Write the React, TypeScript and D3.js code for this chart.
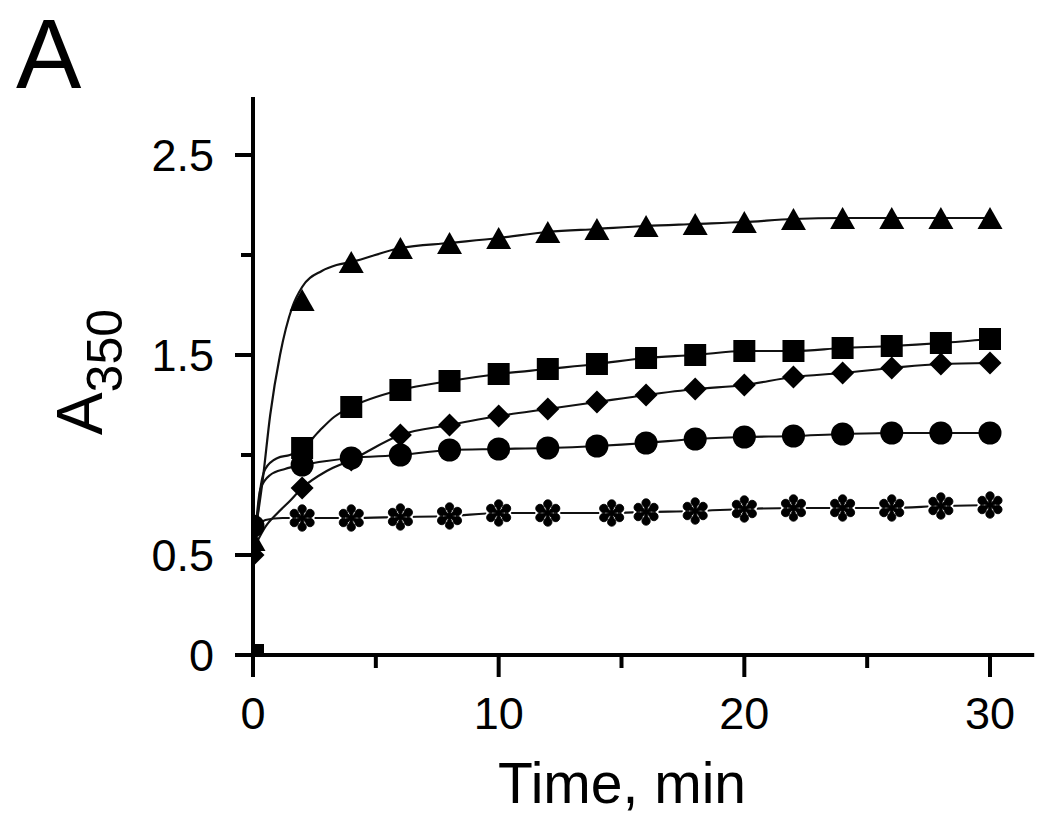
import React from "react";
import * as d3 from "d3";

// marker times (min) and readings of A350
const times = [2, 4, 6, 8, 10, 12, 14, 16, 18, 20, 22, 24, 26, 28, 30];
const triangleVals = [1.775, 1.965, 2.035, 2.06, 2.085, 2.115, 2.13, 2.145, 2.155, 2.165, 2.18, 2.185, 2.185, 2.185, 2.185];
const squareVals = [1.035, 1.24, 1.325, 1.37, 1.405, 1.43, 1.455, 1.485, 1.5, 1.52, 1.52, 1.535, 1.545, 1.56, 1.58];
const diamondVals = [0.835, 0.975, 1.1, 1.15, 1.195, 1.23, 1.265, 1.3, 1.33, 1.35, 1.39, 1.41, 1.435, 1.455, 1.46];
const circleVals = [0.95, 0.985, 1.0, 1.025, 1.03, 1.035, 1.045, 1.06, 1.08, 1.09, 1.095, 1.105, 1.11, 1.11, 1.11];
const asteriskTimes = [2, 4, 6, 8, 10, 12, 14.6, 16, 18, 20, 22, 24, 26, 28, 30];
const asteriskVals = [0.685, 0.685, 0.69, 0.695, 0.71, 0.71, 0.71, 0.715, 0.72, 0.73, 0.735, 0.735, 0.735, 0.745, 0.75];

// points at t = 0 (half hidden by the axis)
const zeroTriangle = 0.575;
const zeroSquare = 0.0;
const zeroDiamond = 0.5;
const zeroCircle = 0.645;

// early part of the fitted curves (before the markers take over)
const triangleFitT = [0.1, 0.4, 0.7, 1.1, 1.6, 2.0, 2.8, 3.4];
const triangleFitV = [0.62, 0.88, 1.2, 1.5, 1.74, 1.84, 1.92, 1.95];
const squareFitT = [0.1, 0.25, 0.5, 1.0, 1.5, 2.0, 2.7, 3.3];
const squareFitV = [0.55, 0.78, 0.93, 0.985, 1.0, 1.03, 1.12, 1.19];
const diamondFitT = [0.1, 0.5, 1.0, 1.5, 2.0, 3.0];
const diamondFitV = [0.55, 0.64, 0.71, 0.77, 0.835, 0.92];
const circleFitT = [0.1, 0.3, 0.7, 1.3, 2.0, 3.0];
const circleFitV = [0.62, 0.83, 0.9, 0.93, 0.95, 0.97];
const asteriskFitT = [0.1, 0.5, 1.2];
const asteriskFitV = [0.62, 0.675, 0.685];

const xMajor = [0, 10, 20, 30];
const xMinor = [5, 15, 25];
const yMajor = [0, 0.5, 1.5, 2.5];
const yMinor = [1, 2];
const yLabels = ["0", "0.5", "1.5", "2.5"];

const FONT = "'Liberation Sans', Arial, Helvetica, sans-serif";

type P = [number, number];

const join = (ft: number[], fv: number[], from: number, mt: number[], mv: number[]): P[] => {
  const pts: P[] = ft.map((t, i) => [t, fv[i]]);
  mt.forEach((t, i) => {
    if (t >= from) pts.push([t, mv[i]]);
  });
  return pts;
};

const trianglePath = "M0,-11L12.5,11L-12.5,11Z";
const squarePath = "M-11,-11H11V11H-11Z";
const diamondPath = "M0,-11.5L11.5,0L0,11.5L-11.5,0Z";
// teardrop petal pointing up
const petal = "M0,0L-2.2,-5.5A4.2,4.2 0 1,1 2.2,-5.5Z";
const petalAngles = [0, 60, 120, 180, 240, 300];

const Asterisk: React.FC<{ cx: number; cy: number }> = ({ cx, cy }) => (
  <g transform={`translate(${cx},${cy})`}>
    {petalAngles.map((a) => (
      <path key={"w" + a} d={petal} transform={`rotate(${a})`} fill="#fff" stroke="#fff" strokeWidth={4} />
    ))}
    {petalAngles.map((a) => (
      <path key={"b" + a} d={petal} transform={`rotate(${a})`} fill="#000" stroke="#000" strokeWidth={0.8} />
    ))}
    <circle r={3} fill="#000" />
  </g>
);

export default function App() {
  const x = d3.scaleLinear().domain([0, 30]).range([253, 990]);
  const y = d3.scaleLinear().domain([0, 2.5]).range([655, 155]);

  const line = d3
    .line<P>()
    .x((d) => x(d[0]))
    .y((d) => y(d[1]))
    .curve(d3.curveMonotoneX);

  const curves = [
    join(triangleFitT, triangleFitV, 4, times, triangleVals),
    join(squareFitT, squareFitV, 4, times, squareVals),
    join(diamondFitT, diamondFitV, 4, times, diamondVals),
    join(circleFitT, circleFitV, 4, times, circleVals),
    join(asteriskFitT, asteriskFitV, 2, asteriskTimes, asteriskVals),
  ];

  const x0 = x(0);
  const y0 = y(0);
  const yTop = y(2.79);
  const xRight = x(31.8);
  const xLeft = x(-0.7);

  return (
    <svg
      width={1050}
      height={816}
      style={{ position: "absolute", left: 0, top: 0, background: "#fff" }}
      fontFamily={FONT}
    >
      <defs>
        <clipPath id="plot">
          <rect x={x0} y={yTop - 20} width={xRight - x0} height={y0 - yTop + 20} />
        </clipPath>
      </defs>

      {/* panel letter */}
      <text x={16} y={88} fontSize={98}>
        A
      </text>

      {/* fitted curves */}
      <g clipPath="url(#plot)" fill="none" stroke="#111" strokeWidth={2.2}>
        {curves.map((c, i) => (
          <path key={i} d={line(c) || ""} />
        ))}
      </g>

      {/* markers */}
      <g clipPath="url(#plot)" fill="#000">
        <path d={trianglePath} transform={`translate(${x(0)},${y(zeroTriangle)})`} />
        <path d={squarePath} transform={`translate(${x(0)},${y(zeroSquare)})`} />
        <path d={diamondPath} transform={`translate(${x(0)},${y(zeroDiamond)})`} />
        <circle cx={x(0)} cy={y(zeroCircle)} r={11.5} />
        {times.map((t, i) => (
          <path key={"d" + t} d={diamondPath} transform={`translate(${x(t)},${y(diamondVals[i])})`} />
        ))}
        {times.map((t, i) => (
          <circle key={"c" + t} cx={x(t)} cy={y(circleVals[i])} r={11.5} />
        ))}
        {times.map((t, i) => (
          <path key={"s" + t} d={squarePath} transform={`translate(${x(t)},${y(squareVals[i])})`} />
        ))}
        {times.map((t, i) => (
          <path key={"t" + t} d={trianglePath} transform={`translate(${x(t)},${y(triangleVals[i])})`} />
        ))}
        {asteriskTimes.map((t, i) => (
          <Asterisk key={"a" + t} cx={x(t)} cy={y(asteriskVals[i])} />
        ))}
      </g>

      {/* axes */}
      <g stroke="#000" strokeWidth={4} strokeLinecap="butt">
        <line x1={x0} x2={x0} y1={yTop} y2={y0} />
        <line x1={xLeft} x2={xRight} y1={y0} y2={y0} />
        {xMajor.map((t) => (
          <line key={"xm" + t} x1={x(t)} x2={x(t)} y1={y0} y2={y0 + 22} />
        ))}
        {xMinor.map((t) => (
          <line key={"xn" + t} x1={x(t)} x2={x(t)} y1={y0} y2={y0 + 13} />
        ))}
        {yMajor.map((v) => (
          <line key={"ym" + v} x1={x0 - 18} x2={x0} y1={y(v)} y2={y(v)} />
        ))}
        {yMinor.map((v) => (
          <line key={"yn" + v} x1={x0 - 12} x2={x0} y1={y(v)} y2={y(v)} />
        ))}
      </g>

      {/* tick labels */}
      <g fontSize={45} fill="#000">
        {xMajor.map((t) => (
          <text key={"xl" + t} x={x(t)} y={y0 + 74} textAnchor="middle">
            {t}
          </text>
        ))}
        {yMajor.map((v, i) => (
          <text key={"yl" + v} x={x0 - 39} y={y(v)} dy="0.36em" textAnchor="end">
            {yLabels[i]}
          </text>
        ))}
      </g>

      {/* axis titles */}
      <text x={622} y={803} fontSize={57} textAnchor="middle">
        Time, min
      </text>
      <text transform="translate(102,372) rotate(-90)" fontSize={64} textAnchor="middle">
        <tspan>A</tspan>
        <tspan fontSize={50} dy={20}>
          350
        </tspan>
      </text>
    </svg>
  );
}
